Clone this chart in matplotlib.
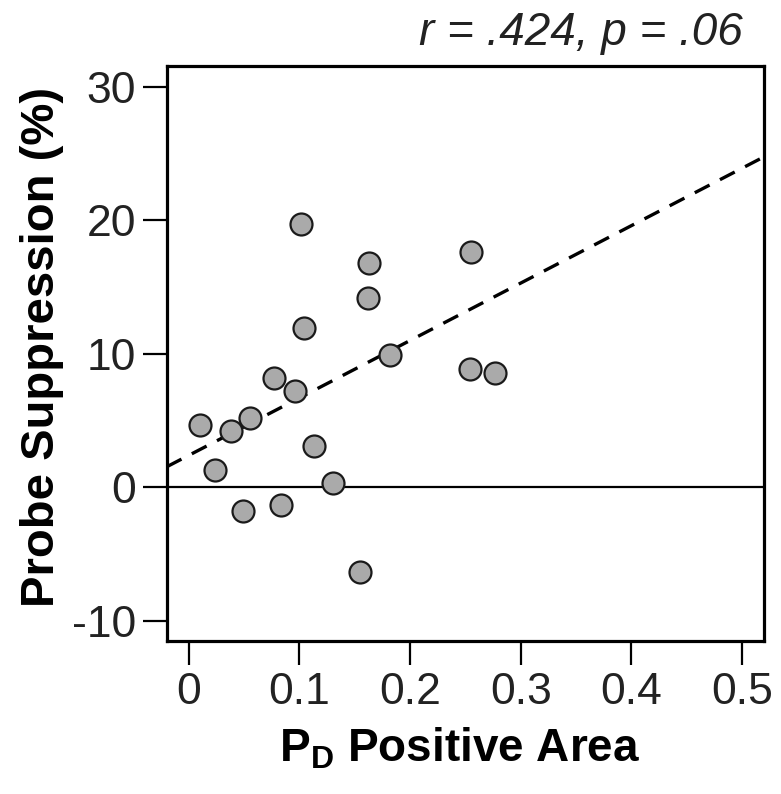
import numpy as np
import matplotlib
matplotlib.use("Agg")
from matplotlib import pyplot as plt

# values
pd_area = [0.101, 0.163, 0.162, 0.255, 0.104, 0.182, 0.254, 0.277, 0.077,
           0.096, 0.010, 0.038, 0.055, 0.113, 0.024, 0.130, 0.049, 0.083, 0.155]
suppression = [19.7, 16.8, 14.2, 17.6, 11.9, 9.9, 8.9, 8.6, 8.2,
               7.2, 4.7, 4.2, 5.2, 3.1, 1.3, 0.3, -1.8, -1.3, -6.3]
fit_intercept = 2.4
fit_slope = 43.0
x_ticks = [0, 0.1, 0.2, 0.3, 0.4, 0.5]
x_tick_labels = ["0", "0.1", "0.2", "0.3", "0.4", "0.5"]
y_ticks = [-10, 0, 10, 20, 30]
stats_text = "r = .424, p = .06"

plt.rcParams['font.family'] = ['Liberation Sans', 'DejaVu Sans']
plt.rcParams['mathtext.fontset'] = 'custom'
plt.rcParams['mathtext.rm'] = 'Liberation Sans:bold'
plt.rcParams['mathtext.bf'] = 'Liberation Sans:bold'
plt.rcParams['axes.unicode_minus'] = False

fig = plt.figure(figsize=(7.81, 7.94), dpi=100)
ax = fig.add_axes([0.2134, 0.1927, 0.7652, 0.7242])

ax.axhline(0, color='black', lw=1.6, zorder=1)
ax.axline((0, fit_intercept), slope=fit_slope, color='black', lw=2.4,
          dashes=(5, 3.5), zorder=2)
ax.scatter(pd_area, suppression, s=250, facecolor='#aaaaaa', edgecolor='#1a1a1a',
           linewidths=1.6, zorder=3)

ax.set_xlim(-0.02, 0.52)
ax.set_ylim(-11.5, 31.55)
ax.set_xticks(x_ticks)
ax.set_xticklabels(x_tick_labels)
ax.set_yticks(y_ticks)

for sp in ax.spines.values():
    sp.set_linewidth(2.3)
ax.tick_params(axis='both', direction='out', length=17, width=1.6,
               labelsize=32, pad=5, labelcolor='#222222')

ax.set_xlabel(r"P$_{\mathrm{D}}$ Positive Area", fontsize=33, fontweight='bold')
ax.xaxis.set_label_coords(0.49, -0.148)
ax.xaxis.label.set_va('top')
ax.set_ylabel("Probe Suppression (%)", fontsize=34, fontweight='bold')
ax.yaxis.set_label_coords(-0.172, 0.512)

ax.text(0.964, 1.037, stats_text, transform=ax.transAxes, ha='right',
        va='baseline', fontsize=33, style='italic', color='#222222')

plt.savefig("out.png", dpi=100)
